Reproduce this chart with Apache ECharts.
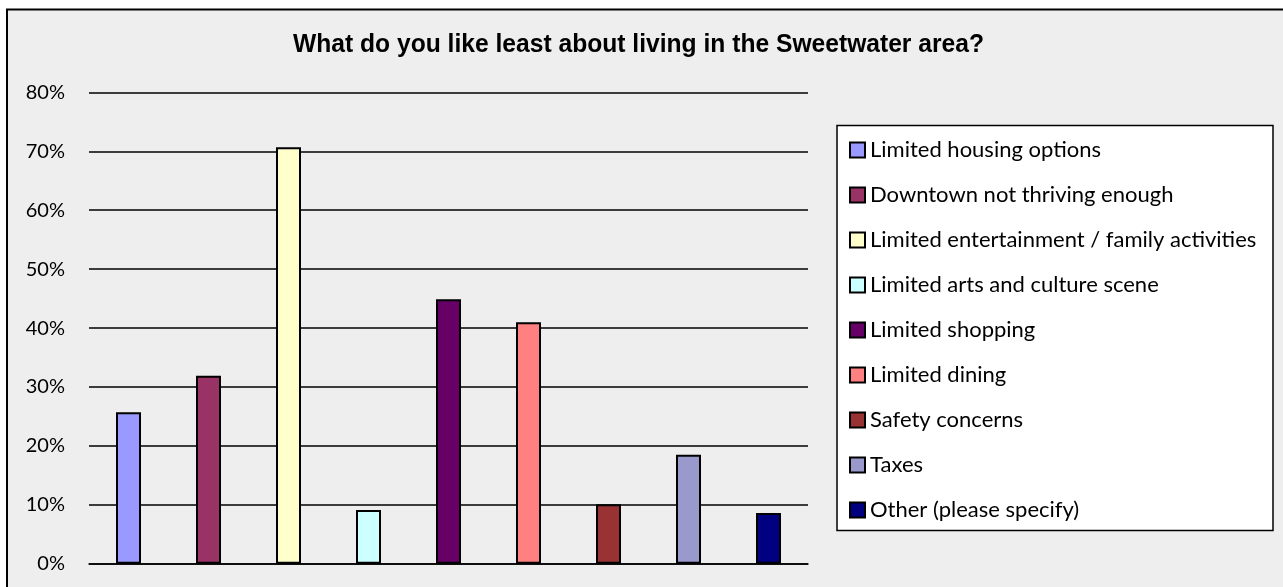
<!DOCTYPE html>
<html>
<head>
<meta charset="utf-8">
<script src="https://cdn.jsdelivr.net/npm/echarts@6/dist/echarts.min.js"></script>
<style>
  html, body { margin: 0; padding: 0; background: #ffffff; }
  #chart { width: 1283px; height: 587px; }
</style>
</head>
<body>
<div id="chart"></div>
<script>
// Survey answers: share of respondents (%) for each complaint
const answers = [
  'Limited housing options',
  'Downtown not thriving enough',
  'Limited entertainment / family activities',
  'Limited arts and culture scene',
  'Limited shopping',
  'Limited dining',
  'Safety concerns',
  'Taxes',
  'Other (please specify)'
];
const shares = [25.7, 31.9, 70.7, 9.1, 44.9, 41.0, 10.1, 18.5, 8.6];
const barColors = ['#9999FF', '#993366', '#FFFFCC', '#CCFFFF', '#660066', '#FF8080', '#993333', '#9999CC', '#000080'];
const axisMax = 80;
const axisStep = 10;

const titleText = 'What do you like least about living in the Sweetwater area?';
const font = 'Lato, "Liberation Sans", sans-serif';

const chart = echarts.init(document.getElementById('chart'), null, { renderer: 'canvas' });

const series = answers.map((name, i) => ({
  name: name,
  type: 'bar',
  data: [shares[i]],
  barWidth: 25,
  barGap: '220%',
  itemStyle: { color: barColors[i], borderColor: '#000', borderWidth: 2 },
  emphasis: { disabled: true }
}));

chart.setOption({
  animation: false,
  backgroundColor: '#ffffff',
  graphic: [
    {
      type: 'rect', z: -10, silent: true,
      shape: { x: 7, y: 9.5, width: 1300, height: 600 },
      style: { fill: '#eeeeee', stroke: '#000', lineWidth: 2 }
    },
    {
      type: 'text', silent: true, z: 5,
      x: 638.5, y: 45, scaleX: 0.985, originX: 0, originY: 0,
      style: {
        text: titleText, align: 'center', verticalAlign: 'middle',
        font: 'bold 25px "Liberation Sans", Arial, sans-serif', fill: '#000'
      }
    },
    {
      type: 'rect', z: 1, silent: true,
      shape: { x: 837, y: 125.5, width: 436, height: 405 },
      style: { fill: '#ffffff', stroke: '#000', lineWidth: 1.5 }
    }
  ],
  grid: { left: 89, right: 475, top: 92.4, bottom: 23.3, containLabel: false },
  legend: {
    orient: 'vertical',
    left: 849, top: 139,
    padding: 0,
    itemGap: 23,
    itemWidth: 15, itemHeight: 15,
    icon: 'rect',
    selectedMode: false,
    z: 5,
    textStyle: { fontFamily: font, fontSize: 22, color: '#000' },
    data: answers
  },
  xAxis: {
    type: 'category',
    data: [''],
    axisLine: { show: true, lineStyle: { color: '#000', width: 1.5 } },
    axisTick: { show: false },
    axisLabel: { show: false }
  },
  yAxis: {
    type: 'value',
    min: 0, max: axisMax, interval: axisStep,
    axisLine: { show: false },
    axisTick: { show: false },
    axisLabel: { formatter: '{value}%', margin: 24, fontFamily: font, fontSize: 20, color: '#000' },
    splitLine: { show: true, lineStyle: { color: '#000', width: 1.5 } }
  },
  series: series
});
</script>
</body>
</html>
